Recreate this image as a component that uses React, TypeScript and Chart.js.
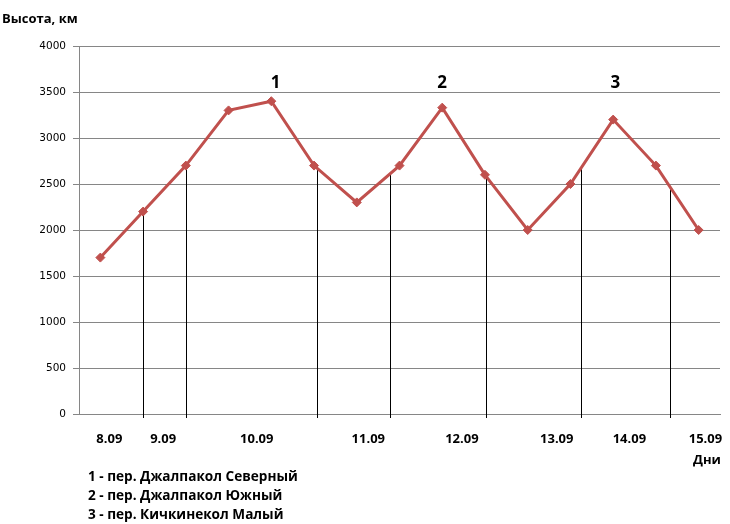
import React, { useEffect, useRef } from "react";
import { Chart, registerables } from "chart.js";

Chart.register(...registerables);

const heights = [1700, 2200, 2700, 3300, 3400, 2700, 2300, 2700, 3330, 2600, 2000, 2500, 3200, 2700, 2000];
const dayLabels = ["8.09", "9.09", "10.09", "11.09", "12.09", "13.09", "14.09", "15.09"];
const dayLabelPos = [0.21, 1.47, 3.66, 6.27, 8.46, 10.68, 12.38, 14.16];
const dividerPos = [1, 2, 5.07, 6.77, 9.02, 11.25, 13.34];
const passPos = [4.1, 8, 12.05];
const passNames = ["1", "2", "3"];
const passLabelValue = 3600;
const legendLines = [
  "1 - пер. Джалпакол Северный",
  "2 - пер. Джалпакол Южный",
  "3 - пер. Кичкинекол Малый",
];
const yTitle = "Высота, км";
const xTitle = "Дни";

const LINE_COLOR = "#C0504D";
const BOLD = "'Open Sans', 'DejaVu Sans', sans-serif";

function valueAt(pos: number) {
  const lo = Math.floor(pos);
  const hi = Math.min(lo + 1, heights.length - 1);
  const t = pos - lo;
  return heights[lo] + (heights[hi] - heights[lo]) * t;
}

const dividersPlugin = {
  id: "dividers",
  beforeDatasetsDraw(chart: any) {
    const { ctx, scales } = chart;
    const xs = scales.x;
    const ys = scales.y;
    ctx.save();
    ctx.strokeStyle = "#000";
    ctx.lineWidth = 1;
    dividerPos.forEach((p) => {
      const x = Math.round(xs.getPixelForValue(p)) + 0.5;
      const top = ys.getPixelForValue(valueAt(p));
      const bottom = ys.getPixelForValue(0) + 4;
      ctx.beginPath();
      ctx.moveTo(x, top);
      ctx.lineTo(x, bottom);
      ctx.stroke();
    });
    ctx.restore();
  },
};

const textPlugin = {
  id: "texts",
  afterDraw(chart: any) {
    const { ctx, scales } = chart;
    const xs = scales.x;
    const ys = scales.y;
    ctx.save();
    ctx.fillStyle = "#000";
    ctx.textBaseline = "middle";
    ctx.font = `bold 17px ${BOLD}`;
    ctx.textAlign = "center";
    passPos.forEach((p, i) => {
      ctx.fillText(passNames[i], xs.getPixelForValue(p), ys.getPixelForValue(passLabelValue));
    });
    ctx.font = `bold 13px ${BOLD}`;
    ctx.textAlign = "left";
    ctx.fillText(yTitle, 2, 19);
    ctx.textAlign = "center";
    ctx.fillText(xTitle, 707, 460);
    ctx.font = `bold 13.6px ${BOLD}`;
    ctx.textAlign = "left";
    legendLines.forEach((t, i) => {
      ctx.fillText(t, 88, 477 + i * 19.3);
    });
    ctx.restore();
  },
};

export default function App() {
  const ref = useRef<HTMLCanvasElement>(null);
  useEffect(() => {
    document.body.style.margin = "0";
    const chart = new Chart(ref.current as HTMLCanvasElement, {
      type: "line",
      data: {
        datasets: [
          {
            data: heights.map((v, i) => ({ x: i, y: v })),
            borderColor: LINE_COLOR,
            backgroundColor: LINE_COLOR,
            borderWidth: 3,
            pointStyle: "rectRot",
            pointRadius: 4.5,
            pointBorderWidth: 1,
            tension: 0,
          },
        ],
      },
      options: {
        animation: false,
        responsive: false,
        layout: { padding: { top: 46, right: 10, left: 0, bottom: 0 } },
        plugins: { legend: { display: false }, tooltip: { enabled: false } },
        scales: {
          x: {
            type: "linear",
            min: -0.5,
            max: 14.5,
            afterBuildTicks: (s: any) => {
              s.ticks = dayLabelPos.map((v) => ({ value: v }));
            },
            afterFit: (s: any) => {
              s.height = 110;
              s.paddingLeft = 0;
              s.paddingRight = 0;
            },
            grid: { display: false, drawTicks: false },
            border: { display: true, color: "#868686" },
            ticks: {
              autoSkip: false,
              maxRotation: 0,
              minRotation: 0,
              padding: 17,
              color: "#000",
              font: { family: BOLD, size: 13, weight: "bold" },
              callback: (_v: any, i: number) => dayLabels[i],
            },
          },
          y: {
            min: 0,
            max: 4000,
            afterFit: (s: any) => {
              s.width = 79;
            },
            grid: { color: "#868686", tickLength: 6, drawTicks: true },
            border: { display: true, color: "#868686" },
            ticks: {
              stepSize: 500,
              padding: 7,
              color: "#000",
              font: { family: "'DejaVu Sans', sans-serif", size: 10.5 },
              callback: (v: any) => String(v),
            },
          },
        },
      },
      plugins: [dividersPlugin, textPlugin],
    });
    return () => chart.destroy();
  }, []);
  return (
    <div style={{ width: 730, height: 524, background: "#fff" }}>
      <canvas ref={ref} width={730} height={524} />
    </div>
  );
}
